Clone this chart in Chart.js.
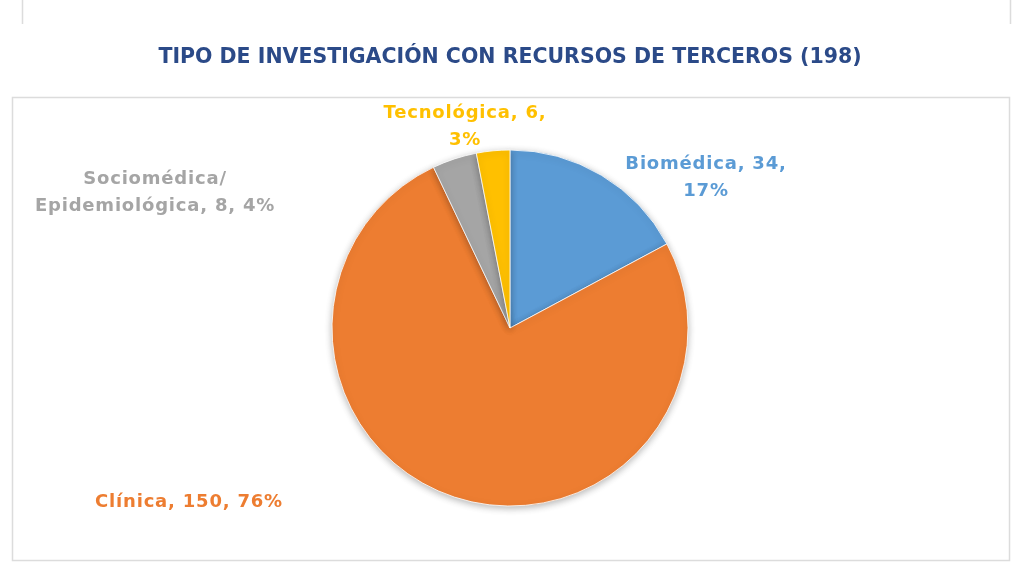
<!DOCTYPE html>
<html>
<head>
<meta charset="utf-8">
<script src="https://cdn.jsdelivr.net/npm/chart.js@4.4.0/dist/chart.umd.min.js"></script>
<style>
  html, body { margin: 0; padding: 0; background: #ffffff; }
  #wrap { width: 1024px; height: 580px; position: relative; }
</style>
</head>
<body>
<div id="wrap"><canvas id="c" width="1024" height="580"></canvas></div>
<script>
const categories = ['Biomédica', 'Clínica', 'Sociomédica/Epidemiológica', 'Tecnológica'];
const values = [34, 150, 8, 6];
const percentLabels = ['17%', '76%', '4%', '3%'];
const labelLines = [
  ['Biomédica, 34,', '17%'],
  ['Clínica, 150, 76%'],
  ['Sociomédica/', 'Epidemiológica, 8, 4%'],
  ['Tecnológica, 6,', '3%']
];
const titleText = 'TIPO DE INVESTIGACIÓN CON RECURSOS DE TERCEROS (198)';

const sliceColors = ['#5B9BD5', '#ED7D31', '#A5A5A5', '#FFC000'];
const labelColors = ['#5B9BD5', '#ED7D31', '#A5A5A5', '#FFC000'];
// label block centre offsets relative to pie centre (styling only)
const labelOffsets = [[196, -150], [-321, 174], [-355, -135], [-45, -201]];

const framePlugin = {
  id: 'frame',
  beforeDraw(chart) {
    const ctx = chart.ctx;
    ctx.save();
    ctx.fillStyle = '#ffffff';
    ctx.fillRect(0, 0, chart.width, chart.height);
    ctx.strokeStyle = '#dcdcdc';
    ctx.lineWidth = 1.5;
    ctx.beginPath();
    ctx.moveTo(22.5, 0); ctx.lineTo(22.5, 24);
    ctx.moveTo(1010.5, 0); ctx.lineTo(1010.5, 24);
    ctx.stroke();
    ctx.strokeRect(12.5, 97.5, 997, 463);
    ctx.restore();
  }
};

const shadowPlugin = {
  id: 'pieShadow',
  beforeDatasetsDraw(chart) {
    const ctx = chart.ctx;
    ctx.save();
    ctx.shadowColor = 'rgba(0,0,0,0.28)';
    ctx.shadowBlur = 7;
    ctx.shadowOffsetX = 0;
    ctx.shadowOffsetY = 2;
  },
  afterDatasetsDraw(chart) {
    chart.ctx.restore();
  }
};

const labelPlugin = {
  id: 'sliceLabels',
  afterDatasetsDraw(chart) {
    const ctx = chart.ctx;
    const meta = chart.getDatasetMeta(0);
    ctx.save();
    ctx.font = 'bold 18px "DejaVu Sans", sans-serif';
    ctx.letterSpacing = '0.8px';
    ctx.textAlign = 'center';
    ctx.textBaseline = 'middle';
    const lh = 27;
    meta.data.forEach((arc, i) => {
      const cx = arc.x + labelOffsets[i][0];
      const cy = arc.y + labelOffsets[i][1];
      const lines = labelLines[i];
      ctx.fillStyle = labelColors[i];
      lines.forEach((t, j) => {
        ctx.fillText(t, cx, cy + (j - (lines.length - 1) / 2) * lh);
      });
    });
    ctx.restore();
  }
};

new Chart(document.getElementById('c'), {
  type: 'pie',
  data: {
    labels: categories,
    datasets: [{
      data: values,
      backgroundColor: sliceColors,
      borderColor: '#ffffff',
      borderWidth: 0.8,
      radius: 178
    }]
  },
  options: {
    responsive: false,
    animation: false,
    layout: { padding: { top: 0, bottom: 64, left: 0, right: 4 } },
    plugins: {
      legend: { display: false },
      tooltip: { enabled: false },
      title: {
        display: true,
        text: titleText,
        color: '#2B4A88',
        font: { family: '"DejaVu Sans", sans-serif', size: 20.5, weight: 'bold' },
        padding: { top: 45, bottom: 70.4 }
      }
    }
  },
  plugins: [framePlugin, shadowPlugin, labelPlugin]
});
</script>
</body>
</html>
